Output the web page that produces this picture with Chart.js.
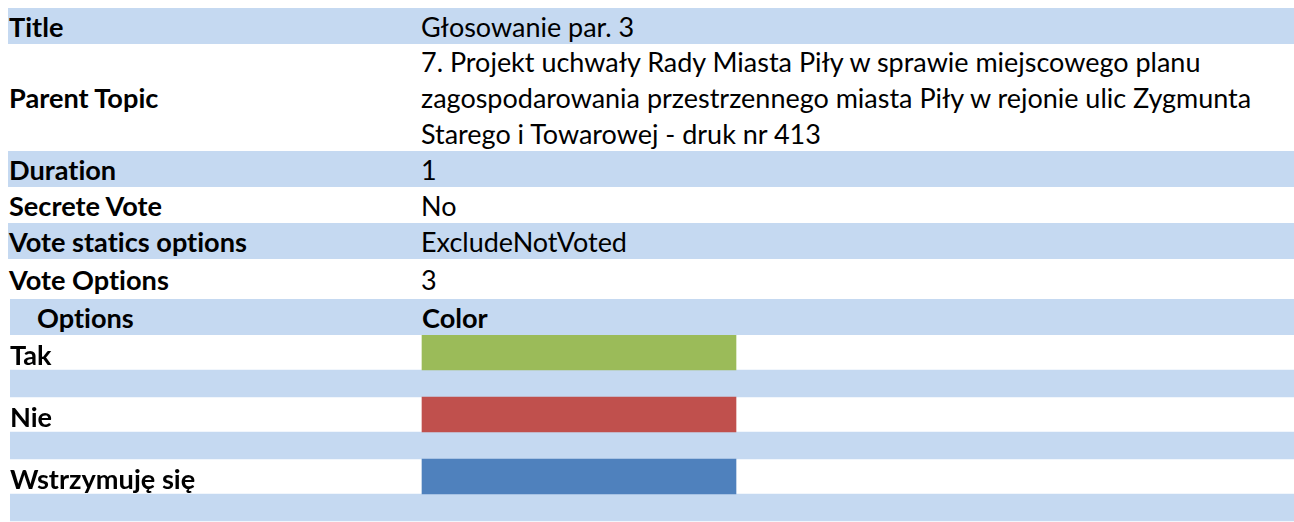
<!DOCTYPE html>
<html>
<head>
<meta charset="utf-8">
<script src="https://cdn.jsdelivr.net/npm/chart.js@4.4.1/dist/chart.umd.min.js"></script>
<style>
  html, body { margin: 0; padding: 0; background: #fff; overflow: hidden; }
  body { width: 1294px; height: 522px; position: relative; color: #000; font-family: Lato, "Open Sans", sans-serif; font-variant-ligatures: none; font-feature-settings: "liga" 0, "dlig" 0; }
  .row { position: absolute; left: 8px; right: 0; }
  .band { background: #C5D9F1; }
  .key, .val { position: absolute; top: 1px; bottom: 0; display: flex; align-items: center; white-space: pre; line-height: 36px; }
  .key { left: 1px; font-weight: bold; }
  .val { left: 413px; }
  #opts { position: absolute; left: 10px; top: 335px; }
</style>
</head>
<body>
<div id="table"></div>
<canvas id="opts" width="1284" height="190"></canvas>
<script>
// ---------- Data ----------
const fieldNames = ['Title', 'Parent Topic', 'Duration', 'Secrete Vote', 'Vote statics options', 'Vote Options'];
const fieldValues = [
  'Głosowanie par. 3',
  '7. Projekt uchwały Rady Miasta Piły w sprawie miejscowego planu\nzagospodarowania przestrzennego miasta Piły w rejonie ulic Zygmunta\nStarego i Towarowej - druk nr 413',
  '1',
  'No',
  'ExcludeNotVoted',
  '3'
];
const headerNames = ['Options', 'Color'];
const optionNames = ['Tak', 'Nie', 'Wstrzymuję się'];
const optionColors = ['#9BBB59', '#C0504D', '#4F81BD'];

// ---------- Layout ----------
const FAMILY = 'Lato, "Open Sans", sans-serif';
const BAND = '#C5D9F1';
const ROW_H = [36, 107, 36, 36, 36, 40];
const TOP = 8;
const TABLE_W = 1284;          // option area width (x 10 .. 1294)
const COLOR_COL = [412, 726];  // color column inside option area

function fitSize(text, weight, target) {
  const c = document.createElement('canvas').getContext('2d');
  c.font = `${weight} 100px ${FAMILY}`;
  return 100 * target / c.measureText(text).width;
}
const regSize = fitSize(fieldValues[1].split('\n')[0], 'normal', 783);
const boldSize = fitSize(fieldNames[4], 'bold', 239);

// ---------- Key / value rows ----------
const table = document.getElementById('table');
let y = TOP;
fieldNames.forEach((name, i) => {
  const row = document.createElement('div');
  row.className = 'row' + (i % 2 === 0 ? ' band' : '');
  row.style.top = y + 'px';
  row.style.height = ROW_H[i] + 'px';
  row.innerHTML = `<div class="key" style="font-size:${boldSize}px"></div><div class="val" style="font-size:${regSize}px"></div>`;
  row.children[0].textContent = name;
  row.children[1].textContent = fieldValues[i];
  table.appendChild(row);
  y += ROW_H[i];
});

// header of the options part
const head = document.createElement('div');
head.className = 'row band';
head.style.cssText = `top:${y}px;height:36px;left:10px;`;
head.innerHTML = `<div class="key" style="left:27px;font-size:${boldSize}px"></div><div class="key" style="left:412px;font-size:${boldSize}px"></div>`;
head.children[0].textContent = headerNames[0];
head.children[1].textContent = headerNames[1];
table.appendChild(head);

// ---------- Options chart ----------
const optionLabels = {
  id: 'optionLabels',
  afterDatasetsDraw(chart) {
    const ctx = chart.ctx;
    const meta = chart.getDatasetMeta(0);
    ctx.save();
    ctx.font = `bold ${boldSize}px ${FAMILY}`;
    ctx.fillStyle = '#000';
    ctx.textBaseline = 'alphabetic';
    meta.data.forEach((bar, i) => {
      ctx.fillText(optionNames[i], chart.chartArea.left, bar.y + 12);
    });
    ctx.restore();
  }
};

new Chart(document.getElementById('opts'), {
  type: 'bar',
  data: {
    labels: optionNames,
    datasets: [
      {
        data: optionNames.map(() => COLOR_COL),
        backgroundColor: optionColors,
        barThickness: 35,
        borderWidth: 0,
        clip: false
      },
      {
        data: optionNames.map(() => [0, TABLE_W]),
        backgroundColor: BAND,
        barThickness: 27,
        borderWidth: 0,
        clip: false
      }
    ]
  },
  options: {
    indexAxis: 'y',
    responsive: false,
    animation: false,
    devicePixelRatio: 1,
    layout: { padding: { top: 4, bottom: 0, left: 0, right: 0 } },
    plugins: { legend: { display: false }, tooltip: { enabled: false } },
    scales: {
      x: { type: 'linear', min: 0, max: TABLE_W, display: false },
      y: { type: 'category', display: false }
    }
  },
  plugins: [optionLabels]
});
</script>
</body>
</html>
